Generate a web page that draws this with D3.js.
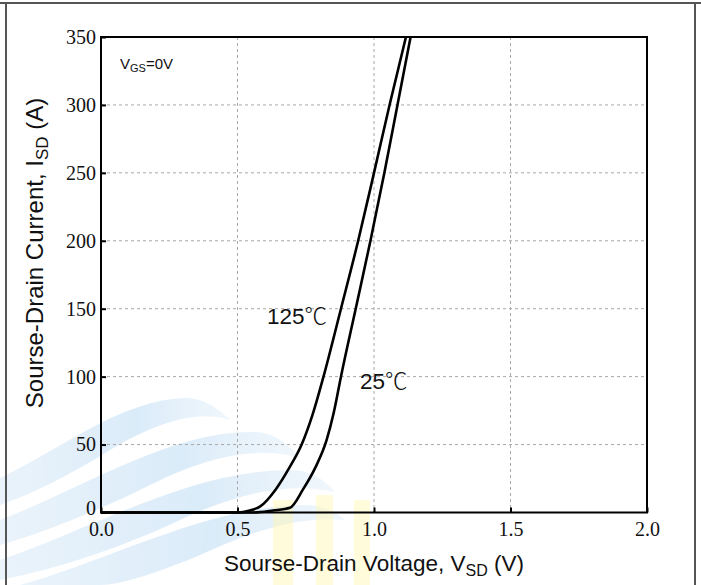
<!DOCTYPE html>
<html>
<head>
<meta charset="utf-8">
<script src="https://cdn.jsdelivr.net/npm/d3@7"></script>
<style>
  html, body { margin: 0; padding: 0; background: #fff; }
  svg { display: block; }
</style>
</head>
<body>
<svg id="chart" width="701" height="585"></svg>
<script>
// Source-drain diode forward characteristics, V_GS = 0 V
const xTicks = [0.0, 0.5, 1.0, 1.5, 2.0];
const yTicks = [0, 50, 100, 150, 200, 250, 300, 350];

// 125 °C curve: V_SD (V) against I_SD (A)
const vsd125 = [0.00, 0.50, 0.545, 0.582, 0.64, 0.69, 0.735, 0.775, 0.815, 0.879, 0.942, 1.000, 1.057, 1.117];
const isd125 = [0,    0,    1.5,   4.3,   17,   33,   50,    72,    100,   150,   200,   250,   300,   350];

// 25 °C curve
const vsd25 = [0.00, 0.56, 0.63, 0.692, 0.74, 0.785, 0.826, 0.852, 0.879, 0.933, 0.987, 1.038, 1.086, 1.134];
const isd25 = [0,    0,    1.5,  3.5,   17,   33,    53,    73,    100,   150,   200,   250,   300,   350];

const svg = d3.select("#chart");
const W = 701, H = 585;
const plot = { left: 101, right: 647, top: 37, bottom: 512.5 };

const x = d3.scaleLinear().domain([0, 2]).range([plot.left, plot.right]);
const y = d3.scaleLinear().domain([0, 350]).range([plot.bottom, plot.top]);

svg.append("rect").attr("width", W).attr("height", H).attr("fill", "#fff");

// faint background emblem in the lower-left corner
const emblem = svg.append("g").attr("opacity", 0.4);
const fadeGrad = svg.append("defs").append("linearGradient")
  .attr("id", "bandFade").attr("x1", "0").attr("x2", "1").attr("y1", "0").attr("y2", "0");
fadeGrad.append("stop").attr("offset", "0").attr("stop-color", "#a9d0f0").attr("stop-opacity", 0.6);
fadeGrad.append("stop").attr("offset", "0.6").attr("stop-color", "#9ccaf0").attr("stop-opacity", 0.9);
fadeGrad.append("stop").attr("offset", "1").attr("stop-color", "#b8d9f3").attr("stop-opacity", 0.5);
const bands = [
  "M0,478 C60,450 120,400 185,398 C205,398 220,410 230,420 C200,410 160,420 110,450 C70,475 30,495 0,505 Z",
  "M0,520 C80,490 170,430 255,432 C275,433 290,445 300,458 C260,446 210,455 150,485 C100,510 45,532 0,545 Z",
  "M0,560 C90,530 190,470 290,470 C310,470 325,480 335,492 C290,482 240,492 180,520 C120,548 60,568 0,580 Z",
  "M20,585 C110,560 210,505 305,505 C322,505 336,512 345,520 C300,516 255,530 200,555 C160,572 120,585 100,585 Z"
];
emblem.selectAll("path.band").data(bands).join("path")
  .attr("class", "band").attr("d", d => d).attr("fill", "url(#bandFade)");
const yellowBars = [[273, 500, 20], [316, 495, 17], [354, 500, 16]];
svg.append("g").selectAll("rect.ybar").data(yellowBars).join("rect")
  .attr("class", "ybar")
  .attr("x", d => d[0]).attr("y", d => d[1]).attr("width", d => d[2]).attr("height", H - 495)
  .attr("fill", "#fff7b0").attr("opacity", 0.45);

// outer frame
svg.append("line").attr("x1", 0).attr("x2", W).attr("y1", 3).attr("y2", 3)
  .attr("stroke", "#555").attr("stroke-width", 2);
svg.append("line").attr("x1", 6).attr("x2", 6).attr("y1", 2).attr("y2", H)
  .attr("stroke", "#555").attr("stroke-width", 2);
svg.append("line").attr("x1", 695).attr("x2", 695).attr("y1", 2).attr("y2", H)
  .attr("stroke", "#555").attr("stroke-width", 2);

// dashed grid
const grid = svg.append("g").attr("stroke", "#a8a8a8").attr("stroke-width", 1)
  .attr("stroke-dasharray", "3,3");
grid.selectAll("line.gx").data(xTicks.slice(1, -1)).join("line")
  .attr("class", "gx")
  .attr("x1", d => x(d)).attr("x2", d => x(d))
  .attr("y1", plot.top).attr("y2", plot.bottom);
grid.selectAll("line.gy").data(yTicks.slice(1, -1)).join("line")
  .attr("class", "gy")
  .attr("x1", plot.left).attr("x2", plot.right)
  .attr("y1", d => y(d)).attr("y2", d => y(d));

// axes with inward ticks
const serif = "'Liberation Serif', 'Times New Roman', serif";
const xAxis = svg.append("g").attr("transform", `translate(0,${plot.bottom})`)
  .call(d3.axisBottom(x).tickValues(xTicks).tickFormat(d3.format(".1f")).tickSize(-5).tickPadding(9));
const yAxis = svg.append("g").attr("transform", `translate(${plot.left},0)`)
  .call(d3.axisLeft(y).tickValues(yTicks).tickSize(-5).tickPadding(5));
[xAxis, yAxis].forEach(a => {
  a.select(".domain").remove();
  a.selectAll(".tick line").attr("stroke", "#000").attr("stroke-width", 2);
  a.selectAll(".tick text").attr("fill", "#111").style("font-family", serif).style("font-size", "20px");
});
xAxis.selectAll(".tick text").attr("dy", "0.71em");
// lift the zero label a little so it clears the "0.0" beneath it
yAxis.selectAll(".tick text").filter(d => d === 0).attr("y", -4);

// curves
const line = d3.line().x(d => x(d[0])).y(d => y(d[1])).curve(d3.curveMonotoneX);
const series = [
  d3.zip(vsd125, isd125),
  d3.zip(vsd25, isd25)
];
svg.append("g").selectAll("path").data(series).join("path")
  .attr("d", line).attr("fill", "none").attr("stroke", "#000")
  .attr("stroke-width", 2.6).attr("stroke-linejoin", "round");

// plot frame
svg.append("rect")
  .attr("x", plot.left).attr("y", plot.top)
  .attr("width", plot.right - plot.left).attr("height", plot.bottom - plot.top)
  .attr("fill", "none").attr("stroke", "#000").attr("stroke-width", 2);

// annotations
const sans = "'Liberation Sans', Arial, 'Noto Sans CJK SC', sans-serif";
const cjk = "'Noto Sans CJK SC', 'Liberation Sans', sans-serif";
const vgs = svg.append("text").attr("x", 120).attr("y", 69)
  .style("font-family", sans).style("font-size", "15px").attr("fill", "#111");
vgs.append("tspan").text("V");
vgs.append("tspan").text("GS").style("font-size", "11px").attr("dy", 3);
vgs.append("tspan").text("=0V").attr("dy", -3);

const tempLabels = [
  { t: "125", x: 267, y: 324 },
  { t: "25", x: 360, y: 389 }
];
tempLabels.forEach(d => {
  const tx = svg.append("text").attr("x", d.x).attr("y", d.y)
    .style("font-family", sans).style("font-size", "22.5px").attr("fill", "#111");
  tx.append("tspan").text(d.t);
  tx.append("tspan").text("℃").style("font-family", cjk).style("font-weight", 300);
});

// axis titles
const xt = svg.append("text").attr("x", 374).attr("y", 571).attr("text-anchor", "middle")
  .style("font-family", sans).style("font-size", "22.5px").attr("fill", "#111");
xt.append("tspan").text("Sourse-Drain Voltage, V");
xt.append("tspan").text("SD").style("font-size", "16px").attr("dy", 5);
xt.append("tspan").text(" (V)").attr("dy", -5);

const yt = svg.append("text")
  .attr("transform", "translate(43,253) rotate(-90)").attr("text-anchor", "middle")
  .style("font-family", sans).style("font-size", "24px").attr("fill", "#111");
yt.append("tspan").text("Sourse-Drain Current, I");
yt.append("tspan").text("SD").style("font-size", "17px").attr("dy", 5);
yt.append("tspan").text(" (A)").attr("dy", -5);
</script>
</body>
</html>
